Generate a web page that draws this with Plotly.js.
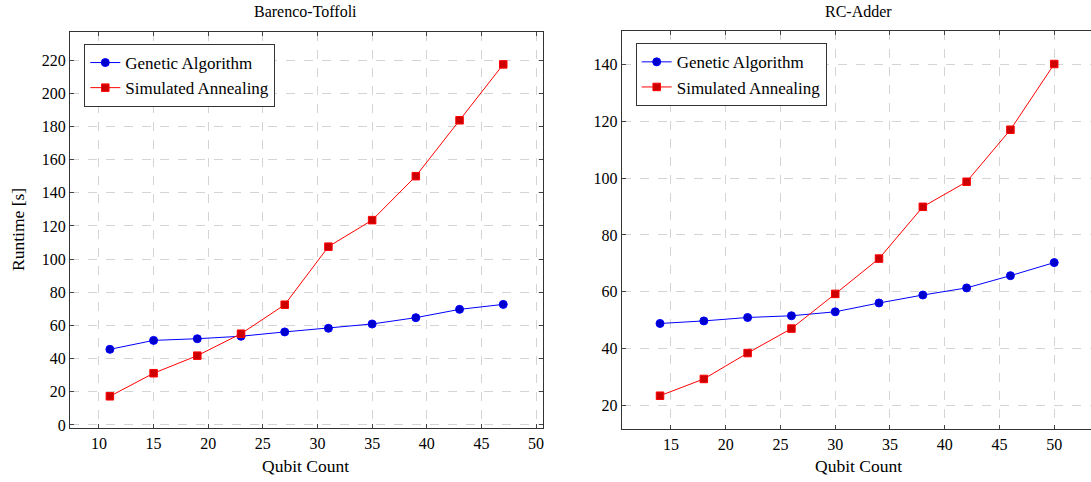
<!DOCTYPE html>
<html>
<head>
<meta charset="utf-8">
<script src="https://cdn.plot.ly/plotly-3.0.1.min.js"></script>
<style>html,body{margin:0;padding:0;background:#fff;overflow:hidden}</style>
</head>
<body>
<div id="chart" style="width:1091px;height:482px"></div>
<script>
// Barenco-Toffoli
const btQubits = [11, 15, 19, 23, 27, 31, 35, 39, 43, 47];
const btGenetic = [45.6, 51.0, 52.0, 53.5, 56.1, 58.3, 60.9, 64.7, 69.7, 72.7];
const btAnnealing = [17.3, 31.2, 41.8, 55.0, 72.5, 107.5, 123.5, 150.0, 183.7, 217.4];
// RC-Adder
const rcQubits = [14, 18, 22, 26, 30, 34, 38, 42, 46, 50];
const rcGenetic = [48.9, 49.8, 51.0, 51.6, 53.0, 56.1, 58.9, 61.4, 65.7, 70.3];
const rcAnnealing = [23.5, 29.4, 38.5, 47.1, 59.3, 71.7, 89.9, 98.7, 117.0, 140.1];

const seriesNames = ["Genetic Algorithm", "Simulated Annealing"];
const panelTitles = ["Barenco-Toffoli", "RC-Adder"];
const xTitle = "Qubit Count";
const yTitle = "Runtime [s]";

const FONT = "Liberation Serif, Times New Roman, serif";
const W = 1091, H = 482;

function gaTrace(x, y, xa, ya, leg, show) {
  return {x: x, y: y, xaxis: xa, yaxis: ya, legend: leg, name: seriesNames[0], showlegend: show,
    type: "scatter", mode: "lines+markers",
    line: {color: "#0000ff", width: 1},
    marker: {symbol: "circle", size: 8, color: "#0000cc", line: {color: "#0000ff", width: 1}}};
}
function saTrace(x, y, xa, ya, leg, show) {
  return {x: x, y: y, xaxis: xa, yaxis: ya, legend: leg, name: seriesNames[1], showlegend: show,
    type: "scatter", mode: "lines+markers",
    line: {color: "#ff0000", width: 1},
    marker: {symbol: "square", size: 7.5, color: "#cc0000", line: {color: "#ff0000", width: 1}}};
}

const data = [
  gaTrace(btQubits, btGenetic, "x", "y", "legend", true),
  saTrace(btQubits, btAnnealing, "x", "y", "legend", true),
  gaTrace(rcQubits, rcGenetic, "x2", "y2", "legend2", true),
  saTrace(rcQubits, rcAnnealing, "x2", "y2", "legend2", true)
];

const axBase = {
  showgrid: true, gridcolor: "#d4d4d4", griddash: "dash", gridwidth: 1,
  zeroline: false, showline: true, linecolor: "#333", linewidth: 1,
  ticks: "inside", ticklen: 4, tickcolor: "#444", tickwidth: 1,
  tickfont: {family: FONT, size: 16, color: "#000"},
  automargin: false, fixedrange: true
};

const px = v => v / W;
const py = v => (H - v) / H;
const labelFont = {family: FONT, size: 17.5, color: "#000"};
const legendFont = {family: FONT, size: 17, color: "#000"};

const layout = {
  width: W, height: H,
  margin: {l: 0, r: 0, t: 0, b: 0},
  paper_bgcolor: "#fff", plot_bgcolor: "#fff",
  font: {family: FONT, size: 16, color: "#000"},
  showlegend: true,
  xaxis: Object.assign({}, axBase, {domain: [px(70), px(542.7)], range: [7.35, 50.61], dtick: 5, tick0: 0, mirror: "ticks", anchor: "y"}),
  yaxis: Object.assign({}, axBase, {domain: [py(428.3), py(31.7)], range: [-2.0, 237.1], dtick: 20, tick0: 0, mirror: "ticks", anchor: "x"}),
  xaxis2: Object.assign({}, axBase, {domain: [px(621.7), 1], range: [10.5, 10.5 + (W - 621.7) / 10.95], dtick: 5, tick0: 0, mirror: "ticks", anchor: "y2"}),
  yaxis2: Object.assign({}, axBase, {domain: [py(429.3), py(31)], range: [11.7, 151.7], dtick: 20, tick0: 0, mirror: false, anchor: "x2"}),
  legend: {x: px(84.3), y: py(44), xanchor: "left", yanchor: "top", bgcolor: "#fff",
    bordercolor: "#333", borderwidth: 1, font: legendFont, itemwidth: 30, tracegroupgap: 0},
  legend2: {x: px(635.7), y: py(43.3), xanchor: "left", yanchor: "top", bgcolor: "#fff",
    bordercolor: "#333", borderwidth: 1, font: legendFont, itemwidth: 30, tracegroupgap: 0},
  annotations: [
    {text: panelTitles[0], xref: "paper", yref: "paper", x: px(306), y: py(11), xanchor: "center", yanchor: "middle", showarrow: false, font: {family: FONT, size: 16, color: "#000"}},
    {text: panelTitles[1], xref: "paper", yref: "paper", x: px(858), y: py(11), xanchor: "center", yanchor: "middle", showarrow: false, font: {family: FONT, size: 16, color: "#000"}},
    {text: xTitle, xref: "paper", yref: "paper", x: px(306), y: py(466), xanchor: "center", yanchor: "middle", showarrow: false, font: labelFont},
    {text: xTitle, xref: "paper", yref: "paper", x: px(858), y: py(466), xanchor: "center", yanchor: "middle", showarrow: false, font: labelFont},
    {text: yTitle, xref: "paper", yref: "paper", x: px(18), y: py(230), xanchor: "center", yanchor: "middle", textangle: -90, showarrow: false, font: labelFont}
  ]
};

Plotly.newPlot("chart", data, layout, {displayModeBar: false, staticPlot: true});
</script>
</body>
</html>
